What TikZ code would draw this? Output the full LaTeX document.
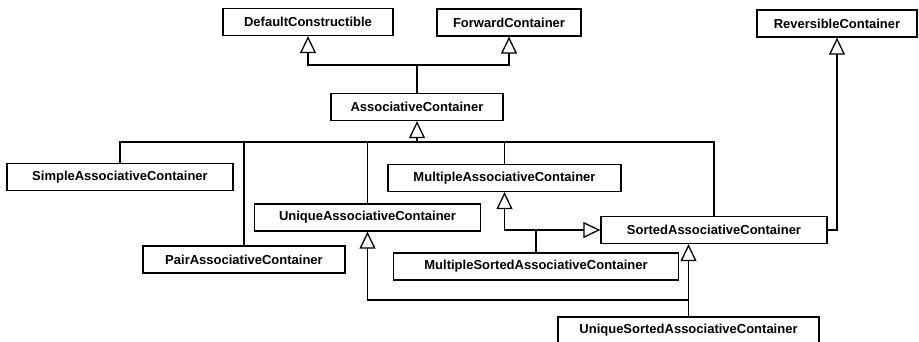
\documentclass[tikz,border=0pt]{standalone}
\usepackage{fontspec}
\setmainfont{Liberation Sans}
\usetikzlibrary{arrows.meta}

\begin{document}
\begin{tikzpicture}[x=1pt,y=-1pt,line width=1.3pt,
    cls/.style={draw,font=\fontsize{13}{15}\selectfont\bfseries,minimum height=27pt,inner sep=0pt},
    isa/.style={-{Triangle[open,length=17pt,width=16pt]}}]
    \useasboundingbox (0,0) rectangle (919,342);
    % classes
    \node[cls,minimum width=170pt] (dc) at (308,22) {DefaultConstructible};
    \node[cls,minimum width=144pt] (fc) at (509,22.5) {ForwardContainer};
    \node[cls,minimum width=160pt] (rev) at (837,23.5) {ReversibleContainer};
    \node[cls,minimum width=172pt] (ac) at (417,107) {AssociativeContainer};
    \node[cls,minimum width=226pt] (simple) at (120,177) {SimpleAssociativeContainer};
    \node[cls,minimum width=233pt] (multiple) at (504.5,178) {MultipleAssociativeContainer};
    \node[cls,minimum width=226pt] (unique) at (367.5,217.5) {UniqueAssociativeContainer};
    \node[cls,minimum width=226pt] (sorted) at (714,230) {SortedAssociativeContainer};
    \node[cls,minimum width=202pt] (pair) at (244,259.5) {PairAssociativeContainer};
    \node[cls,minimum width=285pt] (msac) at (536,266.5) {MultipleSortedAssociativeContainer};
    \node[cls,minimum width=261pt] (usac) at (688.5,330.5) {UniqueSortedAssociativeContainer};
    % junctions
    \coordinate (top) at (417,65);
    \coordinate (bus) at (417,142);
    \coordinate (ms) at (536,230);
    \coordinate (us) at (688.5,300);
    % generalisations
    \draw[isa] (ac.north) -- (top) -| (dc.south);
    \draw[isa] (top) -| (fc.south);
    \draw[isa] (simple.north) |- (bus) -- (ac.south);
    \draw (pair.north) |- (bus);
    \draw (unique.north) |- (bus);
    \draw (multiple.north) |- (bus);
    \draw (sorted.north) |- (bus);
    \draw[isa] (ms) -| (multiple.south);
    \draw[isa] (msac.north) -- (ms) -- (sorted.west);
    \draw[isa] (us) -| (unique.south);
    \draw[isa] (usac.north) -- (us) -- (us |- sorted.south);
    \draw[isa] (sorted.east) -| (rev.south);
\end{tikzpicture}
\end{document}
